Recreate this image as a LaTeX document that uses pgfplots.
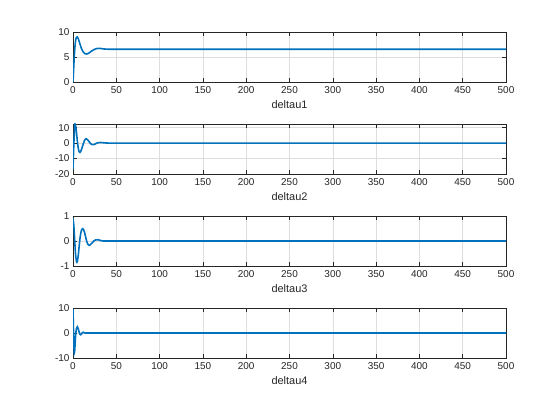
\documentclass[border=0pt]{standalone}
\usepackage{pgfplots}
\pgfplotsset{compat=1.18}
\usepackage{fontspec}
\setmainfont{Liberation Sans}
\definecolor{mblue}{rgb}{0,0.447,0.741}
\definecolor{axgray}{rgb}{0.15,0.15,0.15}
\definecolor{gridgray}{rgb}{0.87,0.87,0.87}
\pgfplotsset{
  mline/.style={mblue, line width=1.6bp, no markers, smooth, tension=0.4},
  mstyle/.style={
    scale only axis, width=433bp, height=50bp,
    xmin=0, xmax=500, xtick={0,50,...,500},
    grid=major, major grid style={gridgray, line width=0.5bp},
    axis line style={axgray, line width=0.5bp},
    tick style={axgray, line width=0.5bp},
    major tick length=4bp,
    tick align=inside,
    ticklabel style={font=\fontsize{10}{12}\selectfont, text=axgray},
    label style={font=\fontsize{11}{13}\selectfont, text=axgray},
    /pgf/number format/assume math mode=true,
    anchor=south west,
    scaled ticks=false,
    xticklabel style={yshift=-1bp},
  }
}
\begin{document}
\begin{tikzpicture}
\useasboundingbox (0,0) rectangle (560bp,420bp);
\begin{axis}[mstyle, at={(73bp,338bp)}, ymin=0, ymax=10, ytick={0,5,10}, xlabel={deltau1}]
\addplot[mline] coordinates {(0,0) (1,3.5) (2,6.5) (3,8.3) (4,8.95) (5,9.0) (6,8.7) (7,8.2) (8,7.6) (10,6.6) (12,5.95) (14,5.65) (16,5.6) (18,5.75) (20,6.0) (22,6.25) (24,6.45) (26,6.62) (28,6.7) (30,6.72) (32,6.7) (34,6.65) (36,6.6) (40,6.56) (45,6.55) (60,6.55) (100,6.55) (500,6.55)};
\end{axis}
\begin{axis}[mstyle, at={(73bp,246bp)}, ymin=-20, ymax=12.4, ytick={-20,-10,0,10}, xlabel={deltau2}]
\addplot[mline] coordinates {(0,-17) (1,0) (2,11.5) (2.5,12.3) (3,11.5) (4,7) (5,1.5) (6,-3) (7,-5.5) (8,-6) (9,-5.3) (10,-3.8) (11,-2) (12,-0.3) (13,1.3) (14,2.4) (15,2.8) (16,2.6) (17,2.1) (18,1.4) (19,0.6) (20,-0.1) (21,-0.6) (22,-0.9) (23,-1.0) (24,-0.9) (25,-0.7) (26,-0.4) (28,0.1) (30,0.35) (32,0.4) (34,0.3) (36,0.2) (40,0.05) (45,0) (60,0) (100,0) (500,0)};
\end{axis}
\begin{axis}[mstyle, at={(73bp,154bp)}, ymin=-1, ymax=1, ytick={-1,0,1}, xlabel={deltau3}]
\addplot[mline] coordinates {(0,0.92) (1,0.6) (2,0.0) (3,-0.55) (4,-0.82) (4.5,-0.85) (5,-0.82) (6,-0.6) (7,-0.25) (8,0.08) (9,0.32) (10,0.45) (11,0.49) (12,0.47) (13,0.38) (14,0.25) (15,0.1) (16,-0.03) (17,-0.12) (18,-0.16) (19,-0.17) (20,-0.15) (22,-0.08) (24,0) (26,0.04) (28,0.05) (30,0.04) (32,0.02) (35,0) (50,0) (100,0) (500,0)};
\end{axis}
\begin{axis}[mstyle, at={(73bp,62bp)}, ymin=-10, ymax=10, ytick={-10,0,10}, xlabel={deltau4}]
\addplot[mline] coordinates {(0,9.5) (0.5,2) (1,-5) (1.5,-8) (2,-7) (2.5,-4) (3,-1) (4,1.8) (5,2.5) (6,1.8) (7,0.5) (8,-0.5) (9,-0.7) (10,-0.3) (11,0.2) (12,0.3) (13,0.1) (14,0) (20,0) (50,0) (100,0) (500,0)};
\end{axis}
\end{tikzpicture}
\end{document}
